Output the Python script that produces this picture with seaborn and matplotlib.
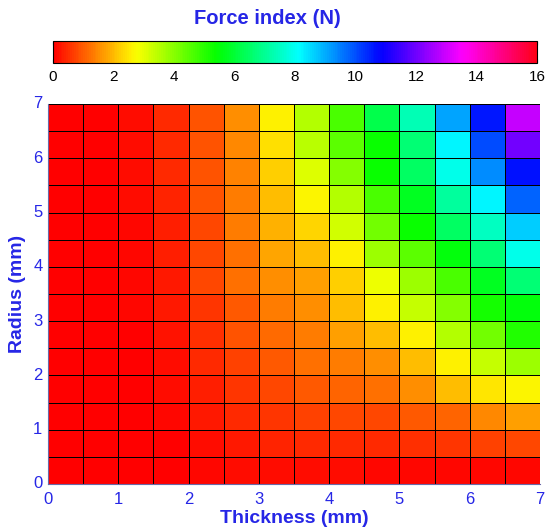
import matplotlib
matplotlib.use('Agg')
import matplotlib.pyplot as plt
import seaborn as sns
import numpy as np
import pandas as pd

# cell centres (mm)
thickness = [0.25, 0.75, 1.25, 1.75, 2.25, 2.75, 3.25, 3.75, 4.25, 4.75, 5.25, 5.75, 6.25, 6.75]
radius = [6.75, 6.25, 5.75, 5.25, 4.75, 4.25, 3.75, 3.25, 2.75, 2.25, 1.75, 1.25, 0.75, 0.25]

# force index (N), rows from top (radius 6.75) to bottom (radius 0.25)
force = [
    [0.0, 0.04, 0.18, 0.44, 0.89, 1.56, 2.58, 3.56, 4.67, 6.22, 7.33, 9.11, 10.58, 12.89],
    [0.0, 0.04, 0.13, 0.44, 0.89, 1.47, 2.40, 3.47, 4.44, 5.33, 6.67, 8.22, 10.00, 12.00],
    [0.0, 0.04, 0.13, 0.44, 0.89, 1.42, 2.22, 3.11, 4.00, 5.33, 6.44, 7.91, 9.33, 10.67],
    [0.0, 0.04, 0.13, 0.40, 0.89, 1.33, 2.00, 2.67, 3.56, 4.67, 5.78, 7.11, 8.22, 9.78],
    [0.0, 0.04, 0.09, 0.36, 0.80, 1.33, 1.91, 2.31, 3.20, 4.22, 5.33, 6.44, 7.47, 8.67],
    [0.0, 0.04, 0.09, 0.36, 0.76, 1.24, 1.78, 2.00, 2.58, 3.78, 4.44, 5.56, 6.67, 7.91],
    [0.0, 0.04, 0.09, 0.31, 0.76, 1.20, 1.56, 1.69, 2.22, 2.89, 3.78, 4.67, 5.78, 6.67],
    [0.0, 0.04, 0.09, 0.27, 0.62, 0.98, 1.33, 1.56, 2.00, 2.58, 3.33, 4.00, 5.24, 5.56],
    [0.0, 0.00, 0.04, 0.22, 0.53, 0.89, 1.16, 1.33, 1.69, 2.00, 2.58, 3.56, 4.22, 5.11],
    [0.0, 0.00, 0.04, 0.18, 0.44, 0.71, 0.98, 1.20, 1.33, 1.56, 2.00, 2.58, 3.33, 3.78],
    [0.0, 0.00, 0.04, 0.13, 0.36, 0.62, 0.80, 0.98, 1.11, 1.24, 1.56, 2.00, 2.44, 2.67],
    [0.0, 0.00, 0.04, 0.09, 0.27, 0.44, 0.62, 0.71, 0.80, 0.80, 0.98, 1.11, 1.47, 1.69],
    [0.0, 0.00, 0.00, 0.04, 0.18, 0.27, 0.40, 0.44, 0.44, 0.44, 0.53, 0.62, 0.71, 0.80],
    [0.0, 0.00, 0.00, 0.00, 0.09, 0.13, 0.18, 0.13, 0.13, 0.09, 0.09, 0.09, 0.09, 0.09],
]

axis_ticks = [0, 1, 2, 3, 4, 5, 6, 7]
cbar_ticks = [0, 2, 4, 6, 8, 10, 12, 14, 16]

blue = '#2626e6'

sns.set_style('white')
plt.rcParams['font.family'] = ['Liberation Sans', 'DejaVu Sans']

df = pd.DataFrame(force, index=radius, columns=thickness)

W, H = 545, 527
fig = plt.figure(figsize=(W / 100, H / 100), dpi=100)
ax = fig.add_axes([48 / W, 1 - 484 / H, (540 - 48) / W, (484 - 104) / H])
cax = fig.add_axes([53 / W, 1 - 63 / H, (537 - 53) / W, 22 / H])

sns.heatmap(df, ax=ax, cmap='hsv', vmin=0, vmax=16, linewidths=0.6, linecolor='black',
            cbar_ax=cax, cbar_kws={'orientation': 'horizontal', 'ticks': cbar_ticks})

# ticks in mm: each cell is 0.5 mm wide
n = len(thickness)
ax.set_xticks([t * 2 for t in axis_ticks])
ax.set_xticklabels([str(t) for t in axis_ticks], rotation=0)
ax.set_yticks([n - t * 2 for t in axis_ticks])
ax.set_yticklabels([str(t) for t in axis_ticks], rotation=0)
ax.tick_params(axis='x', length=0, labelsize=12, labelcolor=blue, pad=6)
ax.tick_params(axis='y', length=0, labelsize=12, labelcolor=blue, pad=4)
ax.set_xlabel('Thickness (mm)', fontsize=14, fontweight='bold', color=blue, labelpad=2)
ax.set_ylabel('Radius (mm)', fontsize=14, fontweight='bold', color=blue, labelpad=5)
for s in ['left', 'bottom']:
    ax.spines[s].set_visible(True)
    ax.spines[s].set_color('#6a6aa8')

cbar = ax.collections[0].colorbar
cbar.outline.set_edgecolor('black')
cbar.outline.set_linewidth(0.8)
cax.tick_params(axis='x', direction='in', length=3, width=0.8, top=True, bottom=True,
                labelsize=11, labelcolor='black', pad=5)
cax.set_xticklabels([str(t) for t in cbar_ticks])
fig.text(267 / W, 1 - 18 / H, 'Force index (N)', fontsize=14.5, fontweight='bold',
         color=blue, ha='center', va='center')

fig.savefig('out.png', dpi=100)
